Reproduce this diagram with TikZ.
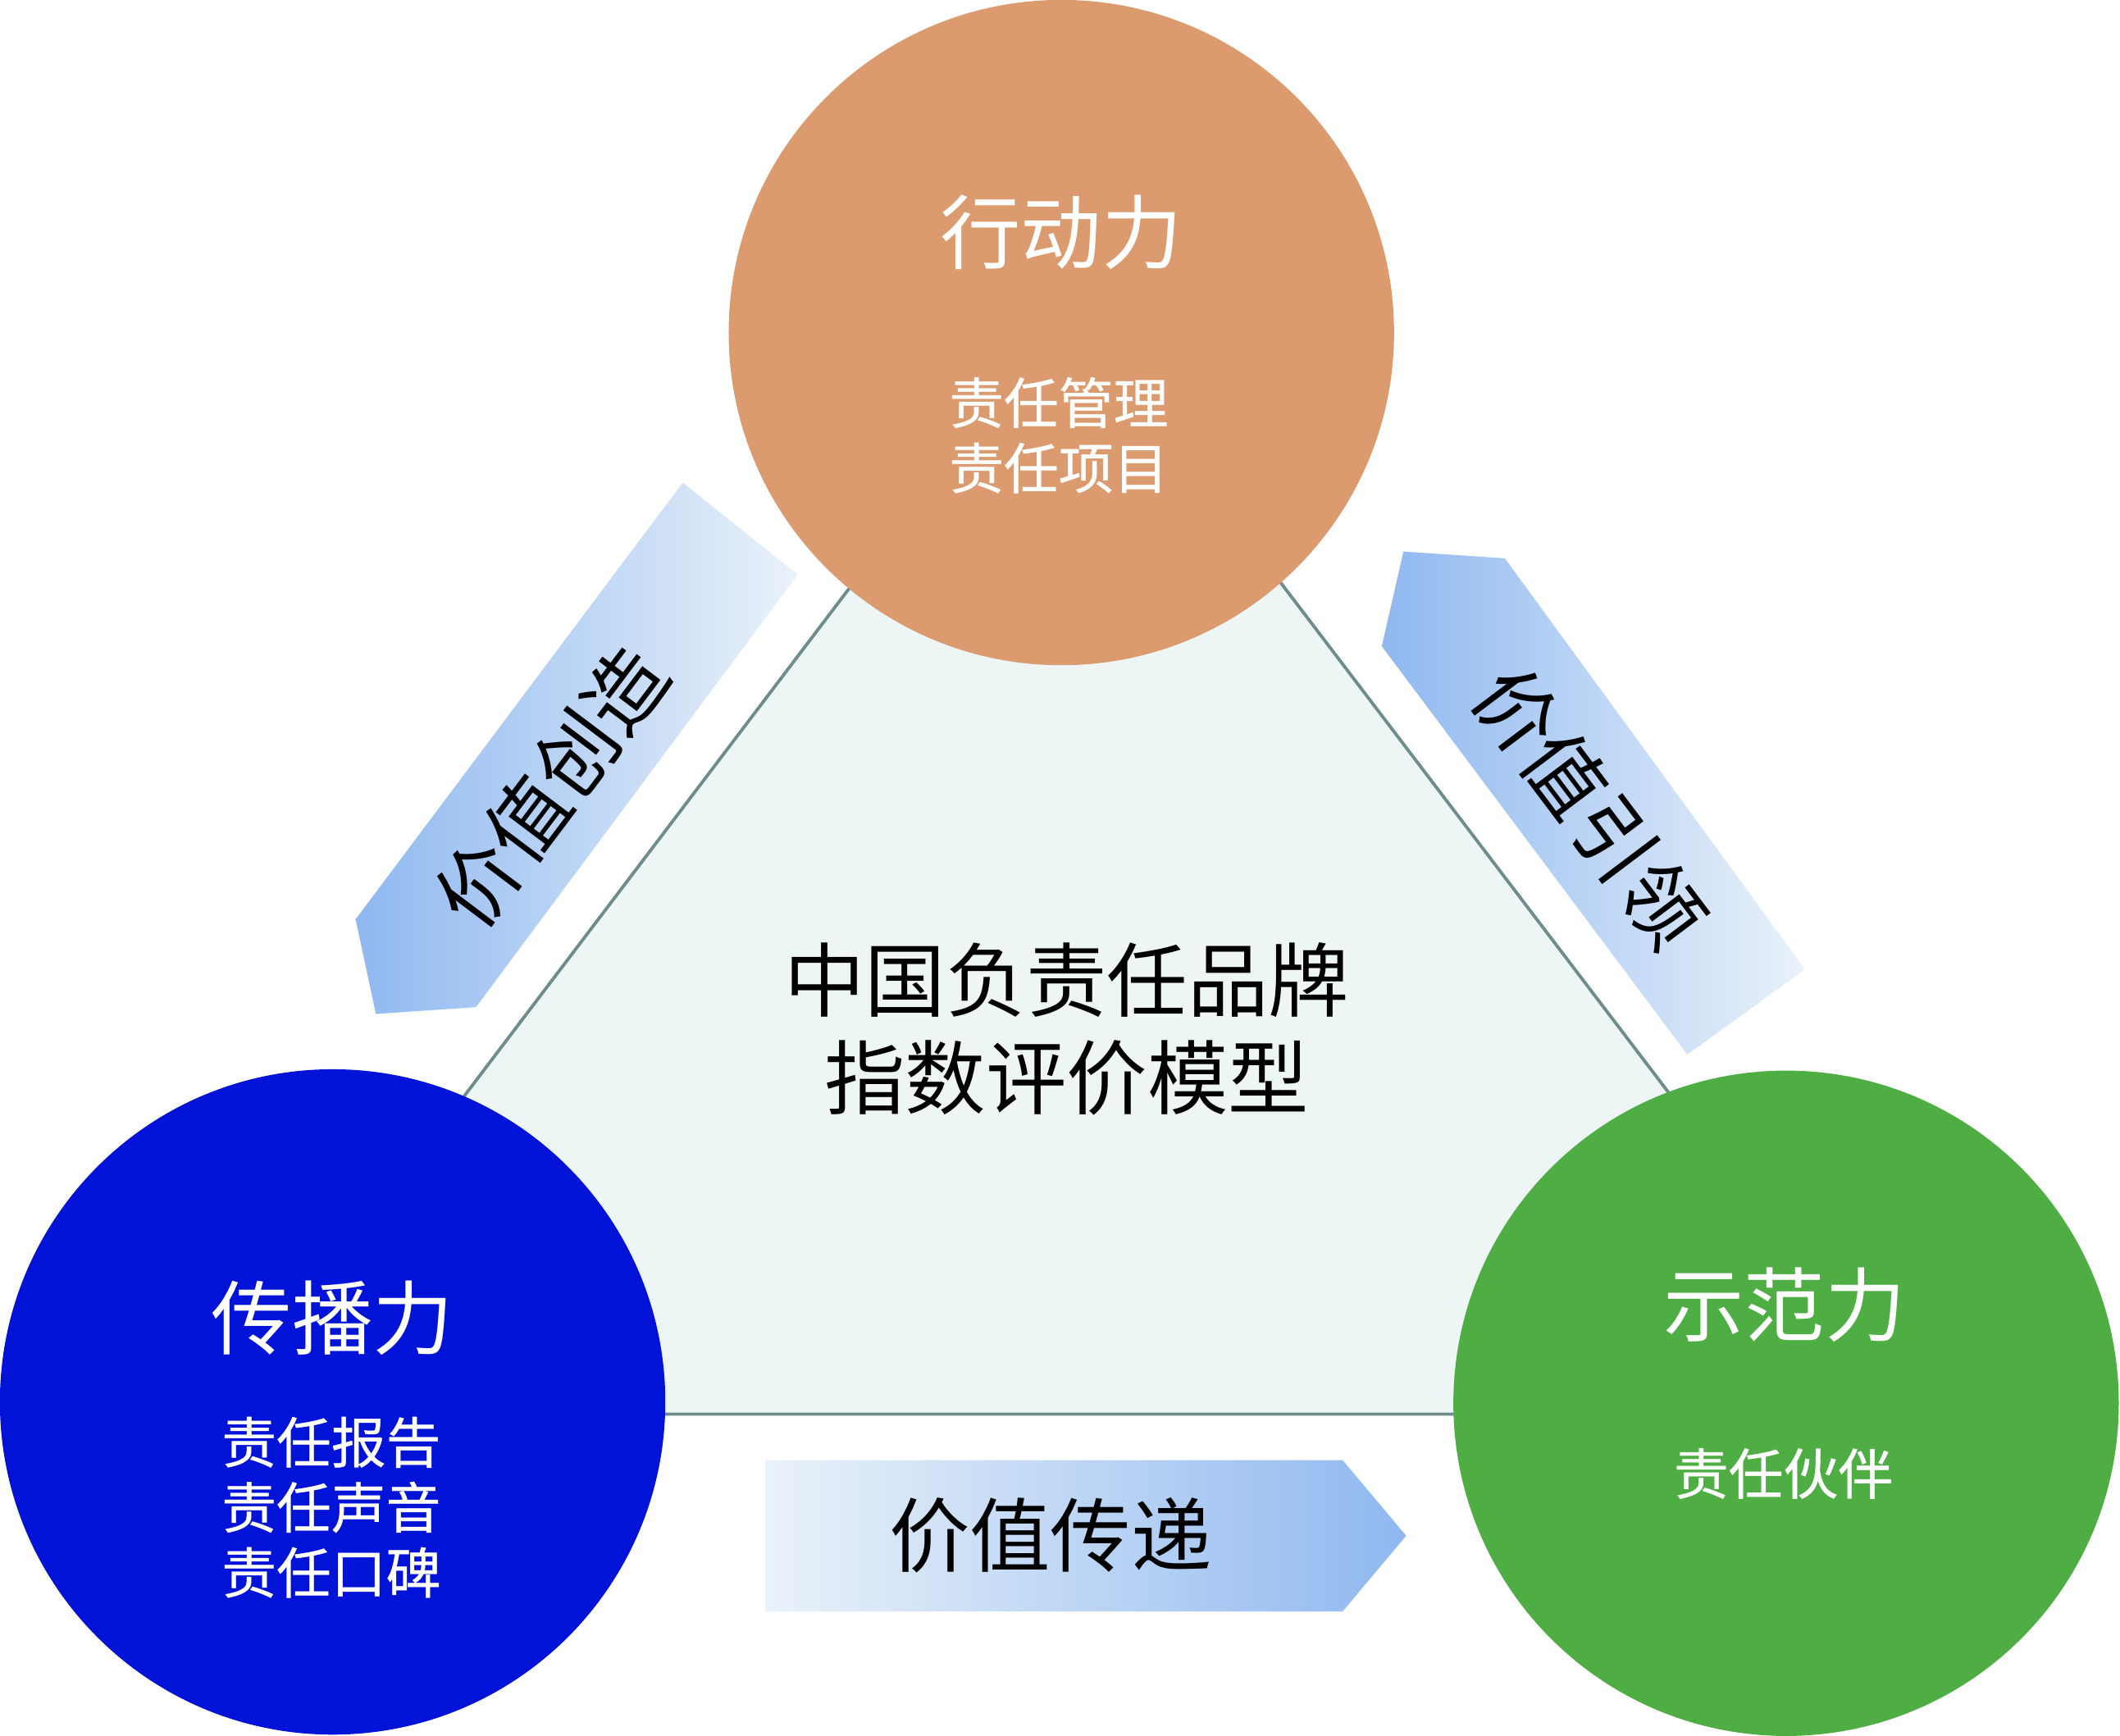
\documentclass[tikz,border=0pt]{standalone}
\usepackage{fontspec}
\newfontfamily\cjk{Noto Sans CJK SC}
\newfontfamily\cjkmed[FakeBold=0.6]{Noto Sans CJK SC}
\definecolor{actC}{RGB}{219,155,110}
\definecolor{spreadC}{RGB}{1,19,214}
\definecolor{demoC}{RGB}{78,174,67}
\definecolor{triFill}{RGB}{238,246,245}
\definecolor{triEdge}{RGB}{110,140,140}
\definecolor{arrBlue}{RGB}{143,184,240}
\definecolor{arrLight}{RGB}{234,242,249}
\begin{document}
\begin{tikzpicture}[x=0.016486cm,y=-0.016486cm,
  ball/.style={circle, inner sep=0pt, minimum size=8.11cm},
  bigw/.style={font=\cjk\fontsize{28}{34}\selectfont, text=white},
  smallw/.style={font=\cjkmed\fontsize{19}{22.6}\selectfont, text=white, align=center},
  bigk/.style={font=\cjk\fontsize{28}{33.8}\selectfont, text=black, align=center},
  arrowtext/.style={font=\cjk\fontsize{28}{34}\selectfont, text=black, inner sep=0pt}]
\useasboundingbox (0,0) rectangle (1568,1284);
% triangle
\coordinate (tA) at (789,223);
\coordinate (tB) at (165,1046);
\coordinate (tC) at (1415,1046);
\draw[fill=triFill, draw=triEdge, line width=1.1pt] (tA) -- (tB) -- (tC) -- cycle;
% arrows
\shade[left color=arrBlue, right color=arrLight]
  (505,357) -- (590,425) -- (352,745) -- (278,750) -- (263,680) -- cycle;
\shade[left color=arrBlue, right color=arrLight]
  (1038,408) -- (1113,413) -- (1335,717) -- (1248,780) -- (1022,478) -- cycle;
\shade[left color=arrLight, right color=arrBlue]
  (566,1080) -- (993,1080) -- (1040,1136) -- (993,1192) -- (566,1192) -- cycle;
\node[arrowtext, rotate=53] (create) at (408,582) {价值创造};
\node[arrowtext, rotate=-53] (lead) at (1176,597) {价值引领};
\node[arrowtext] (pass) at (777,1136) {价值传递};
% circles
\node[ball, fill=actC] (act) at (785,246) {};
\node[ball, fill=spreadC] (spread) at (246,1037) {};
\node[ball, fill=demoC] (demo) at (1321,1038) {};
% texts
\node[bigw] (actT) at (785,172) {行动力};
\node[smallw] (actS) at (783,322) {责任管理\\责任项目};
\node[bigw] (spreadT) at (246,975) {传播力};
\node[smallw] (spreadS) at (245,1115) {责任报告\\责任声音\\责任口碑};
\node[bigw] (demoT) at (1320,965) {示范力};
\node[smallw] (demoS) at (1319,1090) {责任伙伴};
\node[bigk] (center) at (789,761) {中国负责任品牌\\指数评价模型};
\end{tikzpicture}
\end{document}
